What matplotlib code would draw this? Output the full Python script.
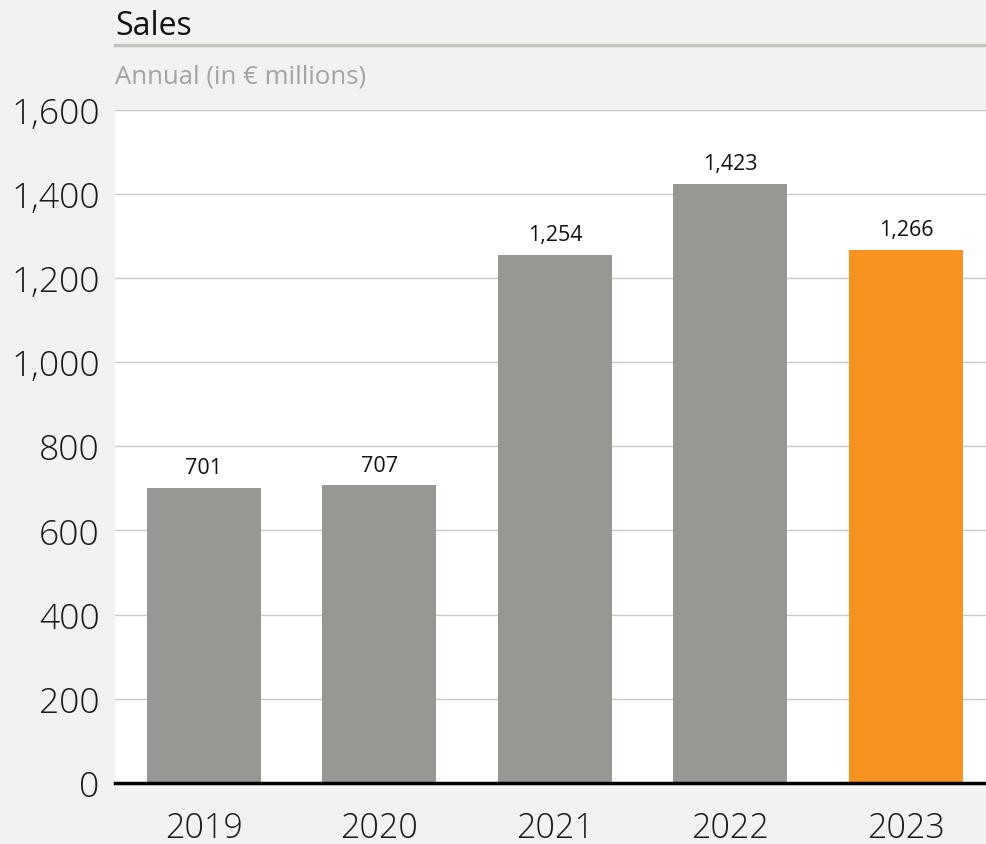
import matplotlib
matplotlib.use("Agg")
import matplotlib.pyplot as plt
from matplotlib.ticker import FuncFormatter
from matplotlib.lines import Line2D

years = ["2019", "2020", "2021", "2022", "2023"]
sales = [701, 707, 1254, 1423, 1266]
bar_colors = ["#979893", "#979893", "#979893", "#979893", "#f7931e"]
yticks = [0, 200, 400, 600, 800, 1000, 1200, 1400, 1600]
title = "Sales"
subtitle = "Annual (in € millions)"

plt.rcParams['font.family'] = ['Open Sans', 'DejaVu Sans']

fig = plt.figure(figsize=(9.87, 8.45), dpi=100, facecolor="#f2f2f2")
ax = fig.add_axes([115/987, 61/845, 872/987, 673.5/845])
ax.set_facecolor("white")

x = list(range(len(years)))
ax.bar(x, sales, width=0.65, color=bar_colors, zorder=3)
for xi, v in zip(x, sales):
    ax.annotate(f"{v:,}", (xi, v), xytext=(0, 7), textcoords="offset points",
                ha="center", va="bottom", fontsize=15.5, color="#111111", zorder=4)

ax.set_xlim(-0.507, 4.462)
ax.set_ylim(0, 1600)
ax.set_yticks(yticks)
ax.yaxis.set_major_formatter(FuncFormatter(lambda v, p: f"{int(v):,}"))
ax.set_xticks(x)
ax.set_xticklabels(years)
ax.tick_params(axis="both", length=0, labelcolor="#1a1a1a")
ax.tick_params(axis="y", pad=11, labelsize=25.5)
ax.tick_params(axis="x", pad=20, labelsize=24.5)
for lbl in ax.get_xticklabels() + ax.get_yticklabels():
    lbl.set_fontweight("light")
ax.grid(axis="y", color="#c8c8c8", linewidth=1, zorder=1)
for s in ["top", "right", "left"]:
    ax.spines[s].set_visible(False)
ax.spines["bottom"].set_color("black")
ax.spines["bottom"].set_linewidth(2.5)
ax.spines["bottom"].set_zorder(5)

fig.text(115/987, 1 - 35/845, title, fontsize=23, color="#111111", ha="left", va="baseline")
fig.add_artist(Line2D([115/987, 1.0], [1 - 46/845, 1 - 46/845], color="#c2c2be", linewidth=2.5))
fig.text(115/987, 1 - 83/845, subtitle, fontsize=18.5, color="#a3a3a3", ha="left", va="baseline")

fig.savefig("out.png", dpi=100, facecolor=fig.get_facecolor())
